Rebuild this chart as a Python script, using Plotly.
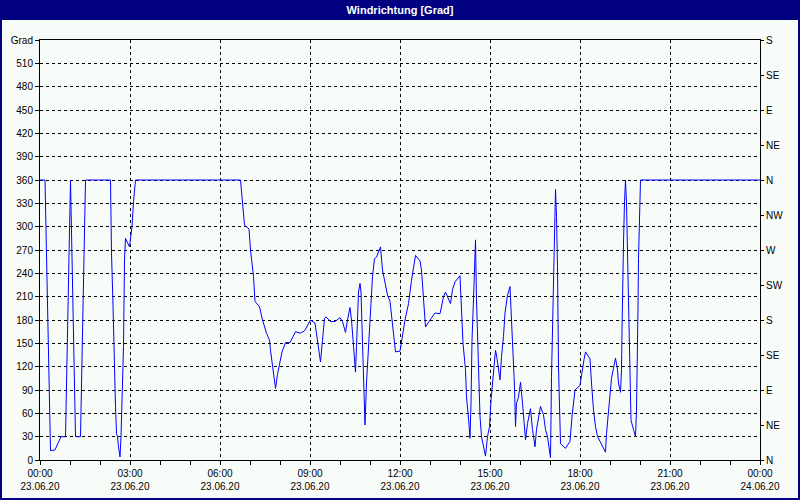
import pandas as pd
import plotly.graph_objects as go

# wind direction readings, 23.06.20 (minutes after midnight -> degrees)
minutes = [0, 10, 21, 30, 42, 51, 61, 71, 81, 91, 141, 143, 146, 148, 151, 153, 155, 157, 160,
           162, 164, 167, 169, 171, 179, 181, 184, 187, 191, 401, 405, 409, 418, 421, 427, 430,
           439, 442, 445, 453, 459, 461, 465, 471, 475, 480, 484, 491, 500, 511, 520, 529, 541,
           550, 553, 557, 561, 565, 569, 572, 581, 590, 600, 605, 611, 615, 620, 623, 627, 631,
           633, 637, 640, 642, 645, 648, 650, 653, 657, 661, 665, 669, 673, 681, 685, 691, 695,
           700, 705, 711, 720, 723, 730, 737, 743, 751, 760, 763, 767, 771, 780, 790, 800, 807,
           811, 817, 821, 825, 830, 840, 843, 846, 851, 853, 857, 860, 862, 864, 867, 869, 871,
           873, 876, 878, 880, 883, 887, 891, 895, 899, 902, 905, 908, 911, 913, 916, 920, 923,
           927, 930, 935, 940, 943, 947, 949, 951, 953, 957, 961, 965, 969, 971, 975, 981, 985,
           990, 993, 997, 1001, 1007, 1011, 1015, 1018, 1021, 1023, 1025, 1027, 1029, 1031, 1033,
           1035, 1037, 1039, 1041, 1051, 1060, 1064, 1070, 1080, 1083, 1088, 1091, 1100, 1103,
           1107, 1111, 1115, 1120, 1125, 1131, 1133, 1137, 1140, 1143, 1147, 1151, 1155, 1157,
           1161, 1163, 1164, 1165, 1167, 1169, 1171, 1173, 1175, 1177, 1178, 1180, 1182, 1187,
           1191, 1193, 1195, 1196, 1197, 1199, 1201, 1440]
grad = [360, 360, 12, 13, 30, 30, 360, 30, 30, 360, 360, 266, 199, 133, 69, 34, 30, 17, 4,
        30, 88, 146, 257, 285, 274, 283, 300, 332, 360, 360, 330, 302, 297, 270, 236, 204,
        197, 188, 180, 163, 154, 141, 120, 92, 110, 129, 139, 151, 151, 165, 163, 166, 180,
        176, 163, 146, 126, 154, 182, 184, 178, 178, 183, 178, 164, 180, 196, 180, 146, 113,
        146, 216, 227, 216, 150, 99, 45, 99, 150, 201, 236, 259, 261, 274, 244, 225, 212,
        204, 171, 139, 140, 154, 180, 201, 231, 263, 256, 244, 210, 171, 180, 189, 188, 210,
        216, 207, 201, 219, 229, 237, 201, 150, 116, 81, 54, 28, 73, 154, 206, 257, 283,
        206, 150, 107, 56, 30, 19, 5, 30, 43, 77, 99, 124, 141, 135, 120, 103, 133,
        159, 189, 212, 223, 184, 133, 94, 43, 73, 81, 100, 73, 34, 26, 47, 66, 39,
        17, 39, 56, 69, 58, 39, 30, 13, 3, 107, 176, 244, 313, 348, 313,
        249, 120, 56, 21, 15, 24, 56, 90, 96, 111, 129, 139, 130, 99,
        64, 43, 30, 24, 17, 10, 34, 60, 88, 105, 118, 131, 116, 99,
        87, 116, 167, 223, 279, 332, 360, 330, 268, 208, 146, 81, 51, 39,
        30, 64, 129, 197, 259, 328, 360, 360]

left_ticks = list(range(0, 541, 30))
left_text = [str(v) for v in range(0, 511, 30)] + ["Grad"]
compass_ticks = list(range(0, 541, 45))
compass_text = ["N", "NE", "E", "SE", "S", "SW", "W", "NW", "N", "NE", "E", "SE", "S"]

t = pd.Timestamp("2020-06-23") + pd.to_timedelta(minutes, unit="m")
bg = "#F8FCF8"
navy = "#000080"
font = dict(family="Liberation Sans, Arial, sans-serif", size=10, color="black")

fig = go.Figure()
fig.add_trace(go.Scatter(x=t, y=grad, mode="lines", line=dict(color="#0000FF", width=1),
                         showlegend=False))
fig.add_trace(go.Scatter(x=t, y=grad, mode="lines", yaxis="y2", line=dict(width=0),
                         opacity=0, hoverinfo="skip", showlegend=False))

fig.update_layout(
    width=800, height=500,
    margin=dict(l=40, r=40, t=40, b=40),
    paper_bgcolor=bg, plot_bgcolor=bg,
    font=font,
    title=dict(text="<b>Windrichtung [Grad]</b>", x=0.5, xanchor="center", y=0.98,
               yanchor="middle", yref="container", automargin=False,
               font=dict(family="Liberation Sans, Arial, sans-serif", size=11, color="white")),
    xaxis=dict(range=[pd.Timestamp("2020-06-23"), pd.Timestamp("2020-06-24")],
               dtick=3 * 3600000, tick0="2020-06-23", tickformat="%H:%M<br>%d.%m.%y",
               ticks="outside", ticklen=4, tickcolor="black", automargin=False,
               minor=dict(dtick=3600000, ticks="outside", ticklen=4, tickcolor="black", showgrid=False),
               showline=True, linecolor="black", linewidth=1, mirror=True,
               showgrid=True, gridcolor="black", gridwidth=1, griddash="3px,3px",
               zeroline=False),
    yaxis=dict(range=[0, 540], tickmode="array", tickvals=left_ticks, ticktext=left_text,
               ticks="outside", ticklen=4, tickcolor="black", automargin=False,
               showline=True, linecolor="black", linewidth=1, mirror=True,
               showgrid=True, gridcolor="black", gridwidth=1, griddash="3px,3px",
               zeroline=False),
    yaxis2=dict(range=[0, 540], overlaying="y", side="right", tickmode="array",
                tickvals=compass_ticks, ticktext=compass_text, automargin=False,
                ticks="outside", ticklen=3, tickcolor="black",
                showline=True, linecolor="black", showgrid=False, zeroline=False),
)

# title bar and window frame
fig.add_shape(type="rect", xref="paper", yref="paper", x0=-40 / 720, x1=1 + 40 / 720,
              y0=1 + 20 / 420, y1=1 + 40 / 420, fillcolor=navy, line=dict(width=0), layer="below")
fig.add_shape(type="rect", xref="paper", yref="paper", x0=-39 / 720, x1=1 + 39 / 720,
              y0=-39 / 420, y1=1 + 39 / 420, fillcolor="rgba(0,0,0,0)",
              line=dict(color=navy, width=2))

# page has a default 8px body margin; drop it so the chart fills the window
fig.write_html("out.html", config={"displayModeBar": False},
               post_script="document.body.style.margin='0';")
